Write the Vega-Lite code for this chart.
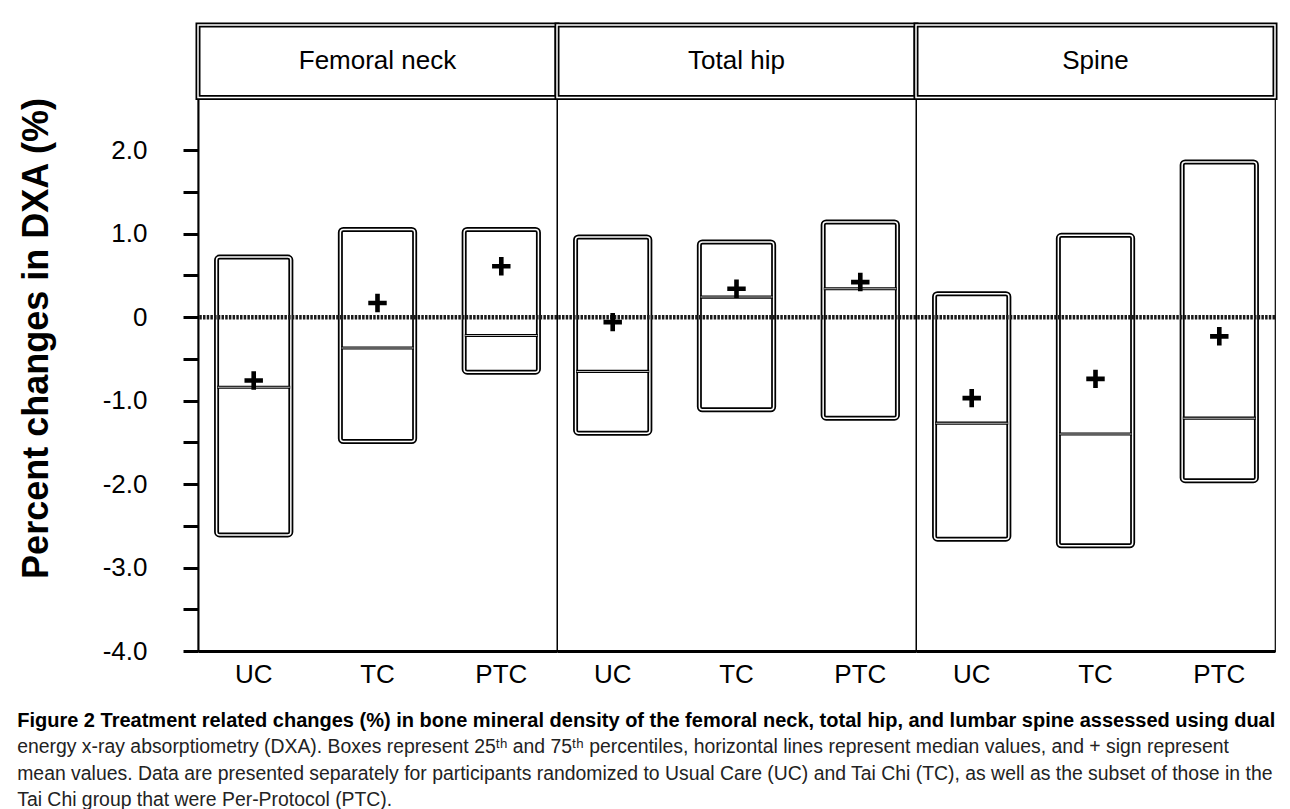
{
  "$schema": "https://vega.github.io/schema/vega-lite/v6.json",
  "padding": {"left": 17, "top": 21, "right": 8, "bottom": 2},
  "background": "white",
  "title": {
    "text": "Figure 2 Treatment related changes (%) in bone mineral density of the femoral neck, total hip, and lumbar spine assessed using dual",
    "subtitle": [
      "energy x-ray absorptiometry (DXA). Boxes represent 25ᵗʰ and 75ᵗʰ percentiles, horizontal lines represent median values, and + sign represent",
      "mean values. Data are presented separately for participants randomized to Usual Care (UC) and Tai Chi (TC), as well as the subset of those in the",
      "Tai Chi group that were Per-Protocol (PTC)."
    ],
    "orient": "bottom",
    "anchor": "start",
    "frame": "bounds",
    "font": "Liberation Sans",
    "fontSize": 20,
    "fontWeight": "bold",
    "color": "black",
    "subtitleFont": "Liberation Sans",
    "subtitleFontSize": 19.4,
    "subtitleColor": "#222222",
    "subtitleLineHeight": 26.5,
    "subtitlePadding": 7,
    "offset": 24,
    "dx": -1
  },
  "data": {
    "values": [
      {"kind": "header", "region": "Femoral neck", "label": "Femoral neck"},
      {"kind": "header", "region": "Total hip", "label": "Total hip"},
      {"kind": "header", "region": "Spine", "label": "Spine"},
      {"kind": "box", "region": "Femoral neck", "group": "UC", "q1": -2.61, "q3": 0.72, "median": -0.84, "mean": -0.76},
      {"kind": "box", "region": "Femoral neck", "group": "TC", "q1": -1.49, "q3": 1.05, "median": -0.37, "mean": 0.17},
      {"kind": "box", "region": "Femoral neck", "group": "PTC", "q1": -0.66, "q3": 1.05, "median": -0.22, "mean": 0.61},
      {"kind": "box", "region": "Total hip", "group": "UC", "q1": -1.39, "q3": 0.96, "median": -0.65, "mean": -0.06},
      {"kind": "box", "region": "Total hip", "group": "TC", "q1": -1.11, "q3": 0.90, "median": 0.24, "mean": 0.34},
      {"kind": "box", "region": "Total hip", "group": "PTC", "q1": -1.21, "q3": 1.14, "median": 0.34, "mean": 0.42},
      {"kind": "box", "region": "Spine", "group": "UC", "q1": -2.66, "q3": 0.28, "median": -1.27, "mean": -0.97},
      {"kind": "box", "region": "Spine", "group": "TC", "q1": -2.74, "q3": 0.98, "median": -1.40, "mean": -0.74},
      {"kind": "box", "region": "Spine", "group": "PTC", "q1": -1.96, "q3": 1.86, "median": -1.21, "mean": -0.23}
    ]
  },
  "facet": {
    "column": {
      "field": "region",
      "type": "nominal",
      "sort": ["Femoral neck", "Total hip", "Spine"],
      "header": {"title": null, "labels": false}
    }
  },
  "spacing": 0,
  "bounds": "flush",
  "spec": {
    "width": 359,
    "height": 626,
    "layer": [
      {
        "transform": [{"filter": "datum.kind === 'header'"}],
        "mark": {"type": "rect", "fill": "white", "stroke": "black", "strokeWidth": 5},
        "encoding": {
          "y": {"datum": 2.63, "type": "quantitative"},
          "y2": {"datum": 3.5}
        }
      },
      {
        "transform": [{"filter": "datum.kind === 'header'"}],
        "mark": {"type": "rect", "fillOpacity": 0, "stroke": "white", "strokeWidth": 1.5},
        "encoding": {
          "y": {"datum": 2.63, "type": "quantitative"},
          "y2": {"datum": 3.5}
        }
      },
      {
        "transform": [{"filter": "datum.kind === 'header'"}],
        "mark": {"type": "text", "font": "Liberation Sans", "fontSize": 26, "color": "black", "baseline": "middle", "align": "center"},
        "encoding": {
          "y": {"datum": 3.065, "type": "quantitative"},
          "text": {"field": "label"}
        }
      },
      {
        "transform": [{"filter": "datum.kind === 'box'"}],
        "mark": {"type": "bar", "fill": "white", "stroke": "black", "strokeWidth": 5, "cornerRadius": 3},
        "encoding": {
          "x": {
            "field": "group",
            "type": "nominal",
            "sort": ["UC", "TC", "PTC"],
            "scale": {"paddingInner": 0.4, "paddingOuter": 0.15},
            "axis": {"title": null, "labelAngle": 0, "ticks": false, "labelPadding": 10, "labelFontSize": 26, "labelFont": "Liberation Sans", "labelColor": "black", "domainColor": "black", "domainWidth": 3}
          },
          "y": {
            "field": "q3",
            "type": "quantitative",
            "title": "Percent changes in DXA (%)",
            "scale": {"domain": [-4, 3.5], "nice": false, "zero": false},
            "axis": {
              "values": [-4, -3.5, -3, -2.5, -2, -1.5, -1, -0.5, 0, 0.5, 1, 1.5, 2],
              "labelExpr": "datum.value % 1 === 0 ? (datum.value === 0 ? '0' : (datum.value < 0 ? '-' + format(-datum.value, '.1f') : format(datum.value, '.1f'))) : ''",
              "grid": false,
              "domainColor": "black",
              "domainWidth": 2,
              "tickColor": "black",
              "tickSize": 15,
              "tickWidth": 3,
              "labelFont": "Liberation Sans",
              "labelFontSize": 26,
              "labelColor": "black",
              "labelPadding": 36,
              "labelFlush": false,
              "labelOverlap": false,
              "titleFont": "Liberation Sans",
              "titleFontSize": 36,
              "titleFontWeight": "bold",
              "titleColor": "black",
              "titlePadding": 47
            }
          },
          "y2": {"field": "q1"}
        }
      },
      {
        "transform": [{"filter": "datum.kind === 'box'"}],
        "mark": {"type": "bar", "fillOpacity": 0, "stroke": "white", "strokeWidth": 1.5, "cornerRadius": 3},
        "encoding": {
          "x": {"field": "group", "type": "nominal", "sort": ["UC", "TC", "PTC"]},
          "y": {"field": "q3", "type": "quantitative", "title": "Percent changes in DXA (%)"},
          "y2": {"field": "q1"}
        }
      },
      {
        "transform": [{"filter": "datum.kind === 'header'"}],
        "mark": {"type": "rule", "color": "#1a1a1a", "strokeWidth": 4.5, "strokeDash": [2.5, 1.2]},
        "encoding": {
          "y": {"datum": 0, "type": "quantitative"}
        }
      },
      {
        "transform": [{"filter": "datum.kind === 'box'"}],
        "mark": {"type": "tick", "color": "black", "thickness": 3.2, "size": 73, "opacity": 1},
        "encoding": {
          "x": {"field": "group", "type": "nominal", "sort": ["UC", "TC", "PTC"]},
          "y": {"field": "median", "type": "quantitative", "title": "Percent changes in DXA (%)"}
        }
      },
      {
        "transform": [{"filter": "datum.kind === 'box'"}],
        "mark": {"type": "tick", "color": "#bbbbbb", "thickness": 1, "size": 72, "opacity": 1},
        "encoding": {
          "x": {"field": "group", "type": "nominal", "sort": ["UC", "TC", "PTC"]},
          "y": {"field": "median", "type": "quantitative", "title": "Percent changes in DXA (%)"}
        }
      },
      {
        "transform": [{"filter": "datum.kind === 'box'"}],
        "mark": {"type": "point", "shape": "M-1,-0.25H1V0.25H-1Z M-0.25,-1H0.25V1H-0.25Z", "size": 340, "filled": true, "color": "black", "opacity": 1, "strokeWidth": 0},
        "encoding": {
          "x": {"field": "group", "type": "nominal", "sort": ["UC", "TC", "PTC"]},
          "y": {"field": "mean", "type": "quantitative", "title": "Percent changes in DXA (%)"}
        }
      }
    ]
  },
  "config": {
    "font": "Liberation Sans",
    "view": {"stroke": "black", "strokeWidth": 1.2}
  }
}
